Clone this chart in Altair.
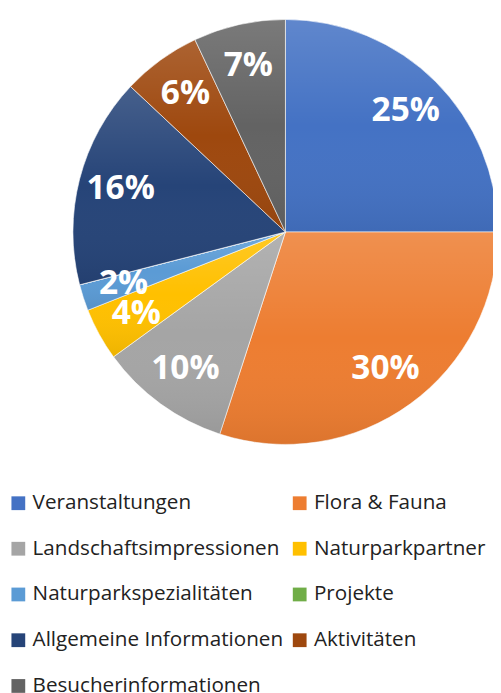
import altair as alt
import pandas as pd

categories = ["Veranstaltungen", "Flora & Fauna", "Landschaftsimpressionen",
              "Naturparkpartner", "Naturparkspezialitäten", "Projekte",
              "Allgemeine Informationen", "Aktivitäten", "Besucherinformationen"]
values = [25, 30, 10, 4, 2, 0, 16, 6, 7]
colors = ["#4472C4", "#ED7D31", "#A5A5A5", "#FFC000", "#5B9BD5", "#70AD47",
          "#264478", "#9E480E", "#636363"]

df = pd.DataFrame({
    "cat": categories,
    "val": values,
    "idx": list(range(len(categories))),
    "label": [f"{v}%" for v in values],
})

# legend is filled column by column: put the row-wise order into columns
n_cols = 2
n_rows = -(-len(categories) // n_cols)
legend_order = [i for c in range(n_cols) for r in range(n_rows)
                for i in [r * n_cols + c] if i < len(categories)]
legend_domain = [categories[i] for i in legend_order]
legend_range = [colors[i] for i in legend_order]

CX, CY, R = 282, 222, 216

base = alt.Chart(df).encode(
    theta=alt.Theta("val:Q", stack=True),
    order=alt.Order("idx:Q"),
    x=alt.value(CX),
    y=alt.value(CY),
)

pie = base.mark_arc(radius=R, stroke="#ffffff", strokeWidth=0.6).encode(
    color=alt.Color(
        "cat:N",
        scale=alt.Scale(domain=legend_domain, range=legend_range),
        legend=alt.Legend(
            orient="none", legendX=0, legendY=487, columns=n_cols,
            symbolType="square", symbolSize=196, symbolStrokeWidth=0,
            labelFontSize=21, labelFont="Open Sans", labelColor="#222222",
            rowPadding=24.5, columnPadding=6, labelLimit=400, labelOffset=4,
            title=None, padding=0,
        ),
    )
)

shade = base.mark_arc(
    radius=R,
    fill=alt.Gradient(
        gradient="linear",
        stops=[
            alt.GradientStop(color="rgba(255,255,255,0.15)", offset=0),
            alt.GradientStop(color="rgba(255,255,255,0.0)", offset=0.5),
            alt.GradientStop(color="rgba(0,0,0,0.07)", offset=1),
        ],
        x1=0, x2=0, y1=0, y2=1,
    ),
).encode(detail="cat:N")

labels = base.mark_text(
    radius=173, font="Open Sans", fontWeight="bold", fontSize=34,
    color="white", align="center", baseline="middle",
).encode(
    text="label:N",
    detail="cat:N",
    opacity=alt.condition("datum.val > 0", alt.value(1), alt.value(0)),
)

chart = alt.layer(pie, shade, labels).properties(
    width=493, height=685, padding=0, autosize="none"
).configure_view(stroke=None)

chart.save("out.html", embed_options={"renderer": "svg", "actions": False})
